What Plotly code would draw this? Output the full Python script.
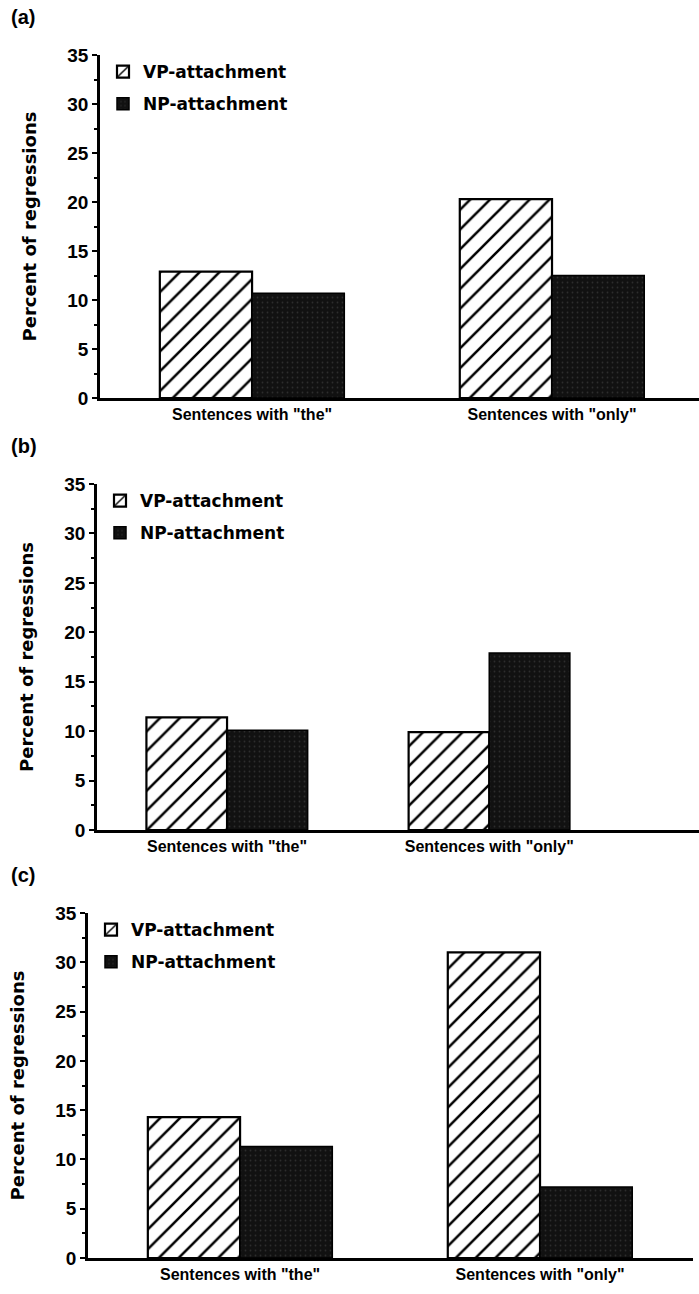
import plotly.graph_objects as go

# Regression percentages by sentence type and attachment, for panels (a)-(c)
categories = ['Sentences with "the"', 'Sentences with "only"']
series_names = ["VP-attachment", "NP-attachment"]
panel_labels = ["(a)", "(b)", "(c)"]

vp_a = [12.9, 20.3]
np_a = [10.7, 12.5]
vp_b = [11.4, 9.9]
np_b = [10.1, 17.9]
vp_c = [14.3, 31.0]
np_c = [11.3, 7.2]

y_ticks = [0, 5, 10, 15, 20, 25, 30, 35]

W, H = 699, 1294


def px_x(p):
    return p / W


def px_y(p):
    return 1 - p / H


# (x0, x1, top, bottom) in pixels, and the category-axis range of each panel
panels = [
    dict(vp=vp_a, np=np_a, box=(100, 699, 55, 398), xr=[-0.507, 1.49]),
    dict(vp=vp_b, np=np_b, box=(97, 699, 484, 830), xr=[-0.496, 1.80]),
    dict(vp=vp_c, np=np_c, box=(88, 693, 913, 1258), xr=[-0.507, 1.51]),
]

hatch = dict(shape="/", fgcolor="#000000", bgcolor="white", fgopacity=1,
             size=14, solidity=0.18)
speckle = dict(shape=".", fgcolor="#4a4a4a", bgcolor="#111111", size=5, solidity=0.1)

BOLD = "bold"
tick_font = dict(family="Liberation Sans", size=19, color="black", weight=BOLD)
xtick_font = dict(family="Liberation Sans", size=16, color="black", weight=BOLD)
legend_font = dict(family="DejaVu Sans", size=17, color="black", weight=BOLD)
title_font = dict(family="DejaVu Sans", size=18, color="black", weight=BOLD)

fig = go.Figure()
layout = dict(
    width=W, height=H,
    margin=dict(l=0, r=0, t=0, b=0, pad=0, autoexpand=False),
    paper_bgcolor="white", plot_bgcolor="white",
    barmode="group", bargap=0.385, bargroupgap=0,
    showlegend=True,
    annotations=[],
)

for i, p in enumerate(panels):
    n = "" if i == 0 else str(i + 1)
    xa, ya = "x" + n, "y" + n
    leg = "legend" + n
    x0, x1, top, bottom = p["box"]

    fig.add_trace(go.Bar(
        x=categories, y=p["vp"], name=series_names[0],
        xaxis=xa, yaxis=ya, legend=leg, legendgroup="vp" + n,
        marker=dict(color="white", pattern=hatch, line=dict(color="black", width=2.2)),
        hoverinfo="x+y",
    ))
    fig.add_trace(go.Bar(
        x=categories, y=p["np"], name=series_names[1],
        xaxis=xa, yaxis=ya, legend=leg, legendgroup="np" + n,
        marker=dict(color="#111111", pattern=speckle, line=dict(color="black", width=1.5)),
        hoverinfo="x+y",
    ))

    layout["xaxis" + n] = dict(
        domain=[px_x(x0), px_x(x1)], anchor=ya, range=p["xr"],
        type="category", showline=True, linecolor="black", linewidth=2.5,
        ticks="", showgrid=False, zeroline=False, automargin=False,
        tickfont=xtick_font,
    )
    layout["yaxis" + n] = dict(
        domain=[px_y(bottom), px_y(top)], anchor=xa, range=[0, 35],
        tickvals=y_ticks,
        showline=True, linecolor="black", linewidth=2.5,
        ticks="outside", ticklen=5, tickwidth=2, tickcolor="black",
        minor=dict(dtick=2.5, tick0=0, ticks="outside", ticklen=3, tickwidth=1.5, tickcolor="black"),
        showgrid=False, zeroline=False, tickfont=tick_font, automargin=False,
        title=dict(text="Percent of regressions", font=title_font, standoff=27),
    )
    layout[leg] = dict(
        x=px_x(x0 + 3), y=px_y(top - 1), xanchor="left", yanchor="top",
        bgcolor="rgba(0,0,0,0)", font=legend_font,
        traceorder="grouped", tracegroupgap=7, itemwidth=30,
    )
    layout["annotations"].append(dict(
        text=panel_labels[i], xref="paper", yref="paper",
        x=px_x(9), y=px_y(top - 38), xanchor="left", yanchor="middle",
        showarrow=False, font=dict(family="Liberation Sans", size=20, color="black", weight=BOLD),
    ))

fig.update_layout(**layout)
fig.write_html("out.html")
